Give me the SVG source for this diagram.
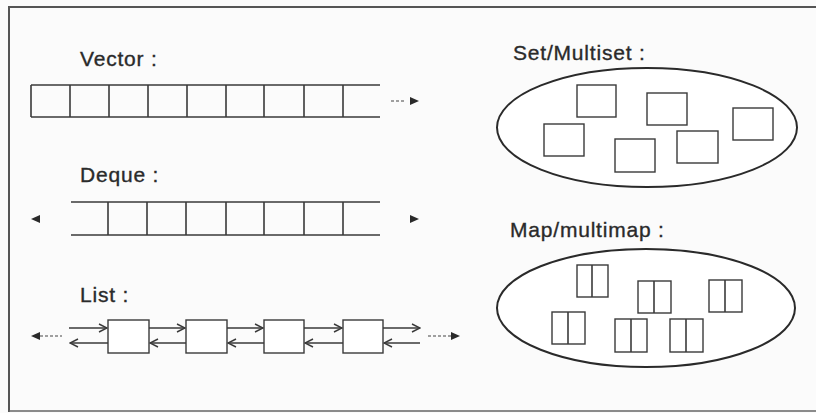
<svg xmlns="http://www.w3.org/2000/svg" width="816" height="413" viewBox="0 0 816 413">
<defs>
<style>
.lbl{font-family:"Liberation Sans",Arial,sans-serif;font-size:21px;letter-spacing:0.8px;fill:#2a2a2a;stroke:#2a2a2a;stroke-width:0.35}
.ln{stroke:#3a3a3a;stroke-width:1.6;fill:none}
.cell{stroke:#3a3a3a;stroke-width:1.4;fill:#fff}
.ell{stroke:#2a2a2a;stroke-width:2;fill:#fff}
.dash{stroke:#444;stroke-width:1.2;stroke-dasharray:3 2;fill:none}
.tri{fill:#2a2a2a}
</style>
<marker id="open" viewBox="0 0 10 10" refX="9" refY="5" markerWidth="10" markerHeight="10" markerUnits="userSpaceOnUse" orient="auto">
<path d="M1,1 L9,5 L1,9" fill="none" stroke="#3a3a3a" stroke-width="1.4"/>
</marker>
</defs>
<rect width="816" height="413" fill="#fbfbfb"/>
<path d="M9,412 L9,7 L816,7" fill="none" stroke="#555" stroke-width="2"/>
<line x1="9" y1="411" x2="816" y2="411" stroke="#666" stroke-width="1.5"/>

<g id="vector">
<text class="lbl" x="80" y="66">Vector :</text>
<line class="ln" x1="31" y1="85" x2="380" y2="85"/>
<line class="ln" x1="31" y1="117" x2="380" y2="117"/>
<path class="ln" d="M31,85V117M70,85V117M109,85V117M148,85V117M187,85V117M226,85V117M264,85V117M304,85V117M343,85V117"/>
<line class="dash" x1="391" y1="101" x2="406" y2="101"/>
<path class="tri" d="M410,97 L419,101 L410,105 Z"/>
</g>

<g id="deque">
<text class="lbl" x="80" y="182">Deque :</text>
<line class="ln" x1="71" y1="202" x2="380" y2="202"/>
<line class="ln" x1="71" y1="235" x2="380" y2="235"/>
<path class="ln" d="M108,202V235M147,202V235M186,202V235M226,202V235M264,202V235M304,202V235M343,202V235"/>
<path class="tri" d="M40,215 L31,219 L40,223 Z"/>
<path class="tri" d="M410,215 L419,219 L410,223 Z"/>
</g>

<g id="list">
<text class="lbl" x="80" y="302">List :</text>
<rect id="list-node-1" class="cell" x="108" y="320" width="41" height="33"/>
<rect id="list-node-2" class="cell" x="186" y="320" width="41" height="33"/>
<rect id="list-node-3" class="cell" x="264" y="320" width="40" height="33"/>
<rect id="list-node-4" class="cell" x="343" y="320" width="40" height="33"/>
</g>

<g id="connectors">
<line class="ln" x1="69" y1="328" x2="107" y2="328" marker-end="url(#open)"/>
<line class="ln" x1="149" y1="328" x2="185" y2="328" marker-end="url(#open)"/>
<line class="ln" x1="227" y1="328" x2="263" y2="328" marker-end="url(#open)"/>
<line class="ln" x1="304" y1="328" x2="342" y2="328" marker-end="url(#open)"/>
<line class="ln" x1="383" y1="328" x2="420" y2="328" marker-end="url(#open)"/>
<line class="ln" x1="108" y1="343" x2="70" y2="343" marker-end="url(#open)"/>
<line class="ln" x1="186" y1="343" x2="150" y2="343" marker-end="url(#open)"/>
<line class="ln" x1="264" y1="343" x2="228" y2="343" marker-end="url(#open)"/>
<line class="ln" x1="343" y1="343" x2="305" y2="343" marker-end="url(#open)"/>
<line class="ln" x1="420" y1="343" x2="384" y2="343" marker-end="url(#open)"/>
<line class="dash" x1="40" y1="336" x2="62" y2="336"/>
<path class="tri" d="M40,332 L31,336 L40,340 Z"/>
<line class="dash" x1="428" y1="336" x2="451" y2="336"/>
<path class="tri" d="M451,332 L460,336 L451,340 Z"/>
</g>

<g id="set">
<text class="lbl" x="513" y="60">Set/Multiset :</text>
<ellipse class="ell" cx="647" cy="127.5" rx="150" ry="59.5"/>
<rect class="cell" x="577" y="85" width="39" height="32"/>
<rect class="cell" x="647" y="93" width="40" height="32"/>
<rect class="cell" x="733" y="108" width="40" height="32"/>
<rect class="cell" x="544" y="124" width="40" height="32"/>
<rect class="cell" x="615" y="139" width="40" height="33"/>
<rect class="cell" x="677" y="131" width="41" height="32"/>
</g>

<g id="map">
<text class="lbl" x="510" y="237">Map/multimap :</text>
<ellipse class="ell" cx="646" cy="308" rx="149" ry="59"/>
<g class="pair"><rect class="cell" x="577" y="265" width="31" height="32"/><line class="ln" x1="592" y1="265" x2="592" y2="297"/></g>
<g class="pair"><rect class="cell" x="638" y="281" width="33" height="32"/><line class="ln" x1="654" y1="281" x2="654" y2="313"/></g>
<g class="pair"><rect class="cell" x="709" y="280" width="33" height="32"/><line class="ln" x1="725" y1="280" x2="725" y2="312"/></g>
<g class="pair"><rect class="cell" x="552" y="312" width="33" height="32"/><line class="ln" x1="568" y1="312" x2="568" y2="344"/></g>
<g class="pair"><rect class="cell" x="615" y="319" width="32" height="33"/><line class="ln" x1="631" y1="319" x2="631" y2="352"/></g>
<g class="pair"><rect class="cell" x="670" y="319" width="33" height="33"/><line class="ln" x1="686" y1="319" x2="686" y2="352"/></g>
</g>
</svg>
